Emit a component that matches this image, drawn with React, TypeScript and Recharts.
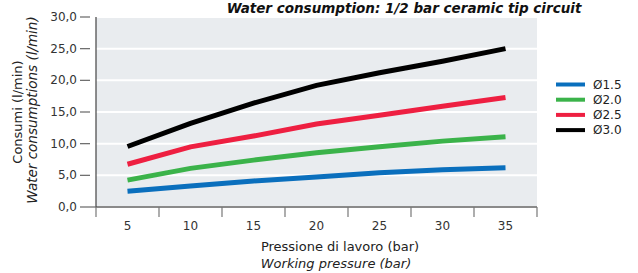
import React from 'react';
import { LineChart, Line, XAxis, YAxis, CartesianGrid } from 'recharts';

const pressures = ['5', '10', '15', '20', '25', '30', '35'];
const yTicks = [0, 5, 10, 15, 20, 25, 30];

const d15 = [2.5, 3.3, 4.1, 4.75, 5.4, 5.9, 6.2];
const d20 = [4.25, 6.1, 7.4, 8.55, 9.5, 10.4, 11.1];
const d25 = [6.75, 9.5, 11.2, 13.1, 14.5, 15.9, 17.3];
const d30 = [9.55, 13.2, 16.4, 19.2, 21.2, 23.0, 25.0];

const seriesNames = ['Ø1.5', 'Ø2.0', 'Ø2.5', 'Ø3.0'];

const COLORS = ['#0a6fbd', '#3bb34a', '#ee1f41', '#000000'];

const data = pressures.map((p, i) => ({
  p,
  s15: d15[i],
  s20: d20[i],
  s25: d25[i],
  s30: d30[i],
}));

const keys = ['s15', 's20', 's25', 's30'];

const W = 638;
const H = 273;
const PLOT_LEFT = 96;
const PLOT_RIGHT = 537;
const BAND = (PLOT_RIGHT - PLOT_LEFT) / pressures.length;
const FONT = '"DejaVu Sans", sans-serif';

const XTick = (props: any) => {
  const { x, y, payload, index } = props;
  const half = BAND / 2;
  return (
    <g>
      <line x1={x - half} x2={x - half} y1={y} y2={y + 10} stroke="#777" strokeWidth={1.2} />
      {index === pressures.length - 1 && (
        <line x1={x + half} x2={x + half} y1={y} y2={y + 10} stroke="#777" strokeWidth={1.2} />
      )}
      <text x={x} y={y + 19} textAnchor="middle" dominantBaseline="central" fontSize={12} fill="#333" fontFamily={FONT}>
        {payload.value}
      </text>
    </g>
  );
};

const YTick = (props: any) => {
  const { x, y, payload } = props;
  const label = Number(payload.value).toFixed(1).replace('.', ',');
  return (
    <g>
      <line x1={x - 16} x2={payload.value === 0 ? x : x - 6} y1={y} y2={y} stroke="#666" strokeWidth={1.2} />
      <text x={x - 19} y={y} textAnchor="end" dominantBaseline="central" fontSize={12} fill="#333" fontFamily={FONT}>
        {label}
      </text>
    </g>
  );
};

export default function App() {
  return (
    <div style={{ position: 'relative', width: W, height: H, background: '#fff' }}>
      <style>{`body{margin:0}`}</style>
      <LineChart width={W} height={H} data={data} margin={{ top: 17, right: W - PLOT_RIGHT, left: 36, bottom: 36 }}>
        <CartesianGrid vertical={false} fill="#e9ecef" stroke="#ffffff" strokeWidth={2} />
        <XAxis
          dataKey="p"
          height={30}
          tick={<XTick />}
          tickLine={false}
          tickSize={0}
          tickMargin={0}
          padding={{ left: BAND / 2, right: BAND / 2 }}
          axisLine={{ stroke: '#8a8a8a', strokeWidth: 2 }}
          interval={0}
        />
        <YAxis
          width={60}
          domain={[0, 30]}
          ticks={yTicks}
          tick={<YTick />}
          tickLine={false}
          tickSize={0}
          tickMargin={0}
          axisLine={{ stroke: '#444', strokeWidth: 1.2 }}
          interval={0}
        />
        {keys.map((k, i) => (
          <Line
            key={k}
            type="linear"
            dataKey={k}
            name={seriesNames[i]}
            stroke={COLORS[i]}
            strokeWidth={5}
            dot={false}
            activeDot={false}
            isAnimationActive={false}
          />
        ))}
      </LineChart>
      <svg width={W} height={H} style={{ position: 'absolute', left: 0, top: 0, pointerEvents: 'none' }}>
        <text x={404} y={13} textAnchor="middle" fontSize={13.5} fontWeight="bold" fontStyle="italic" fill="#111" fontFamily={FONT}>
          Water consumption: 1/2 bar ceramic tip circuit
        </text>
        <text transform="translate(17,112) rotate(-90)" textAnchor="middle" dominantBaseline="central" fontSize={13} fill="#222" fontFamily={FONT}>
          Consumi (l/min)
        </text>
        <text transform="translate(32,110) rotate(-90)" textAnchor="middle" dominantBaseline="central" fontSize={13.5} fontStyle="italic" fill="#222" fontFamily={FONT}>
          Water consumptions (l/min)
        </text>
        <text x={340} y={246} textAnchor="middle" dominantBaseline="central" fontSize={13} fill="#222" fontFamily={FONT}>
          Pressione di lavoro (bar)
        </text>
        <text x={336} y={263} textAnchor="middle" dominantBaseline="central" fontSize={13} fontStyle="italic" fill="#222" fontFamily={FONT}>
          Working pressure (bar)
        </text>
        {seriesNames.map((n, i) => (
          <g key={n}>
            <line x1={556} x2={585} y1={84.5 + i * 15.2} y2={84.5 + i * 15.2} stroke={COLORS[i]} strokeWidth={4} />
            <text x={593} y={84.5 + i * 15.2} dominantBaseline="central" fontSize={12} fill="#222" fontFamily={FONT}>
              {n}
            </text>
          </g>
        ))}
      </svg>
    </div>
  );
}
